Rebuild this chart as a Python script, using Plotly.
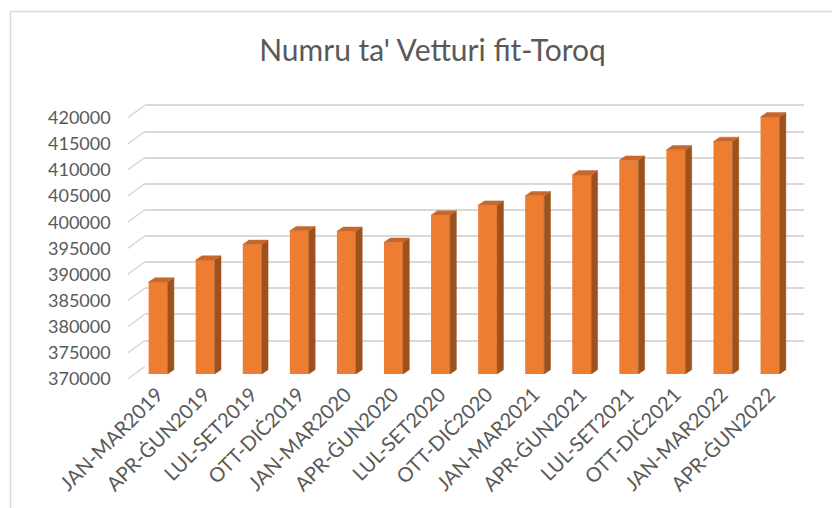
import plotly.graph_objects as go

# ---- data ----
categories = ["JAN-MAR2019", "APR-ĠUN2019", "LUL-SET2019", "OTT-DIĊ2019",
              "JAN-MAR2020", "APR-ĠUN2020", "LUL-SET2020", "OTT-DIĊ2020",
              "JAN-MAR2021", "APR-ĠUN2021", "LUL-SET2021", "OTT-DIĊ2021",
              "JAN-MAR2022", "APR-ĠUN2022"]
values = [387600, 391800, 394800, 397400, 397300, 395200, 400400, 402300,
          404100, 408100, 410900, 412900, 414500, 419200]
y_ticks = [370000, 375000, 380000, 385000, 390000, 395000, 400000,
           405000, 410000, 415000, 420000]
y_tick_labels = [str(t) for t in y_ticks]
title_text = "Numru ta' Vetturi fit-Toroq"

# ---- geometry (pixels, page coords; page body margin compensated) ----
W, H = 840, 508
OFF = 8.0             # default body margin of the html page
XL = 127.7 - OFF      # floor front-left x
CW = 47.07            # category width px
XR = XL + len(categories) * CW
YB = 379.0 - OFF      # pixel of axis minimum on front plane
K = 0.005226          # px per unit value
YMIN, YMAX = 370000, 425000
YT = YB - (YMAX - YMIN) * K

def dom(x0, x1, y0, y1):
    return [x0 / W, x1 / W], [1 - y1 / H, 1 - y0 / H]

# back wall shift, bar plane shift, bar depth
BACK_DX, BACK_DY = 17.0, 12.3
BAR_DX, BAR_DY = 6.9, 5.0
DEP_DX, DEP_DY = 6.3, 4.3

fx, fy = dom(XL, XR, YT, YB)
bx, by = dom(XL + BACK_DX, XR + BACK_DX, YT - BACK_DY, YB - BACK_DY)
cx, cy = dom(XL + BAR_DX, XR + BAR_DX, YT - BAR_DY, YB - BAR_DY)

xr = [-0.5, len(categories) - 0.5]
idx = list(range(len(categories)))
label_pos = [i + 0.13 for i in idx]

FRONT = "#ED7D31"
SIDE = "#9C521E"
TOP = "#C9672A"
TXT = "#595959"
GRID = "#D9D9D9"
FONT = "Lato"

fig = go.Figure()

# invisible trace so the back-wall subplot is drawn
fig.add_trace(go.Scatter(x=[xr[0]], y=[YMIN], mode="markers", xaxis="x",
                         yaxis="y", marker=dict(opacity=0), hoverinfo="skip",
                         showlegend=False))

# side-wall diagonals (front axes, data units)
ddx = BACK_DX / CW
ddy = BACK_DY / K
sx, sy = [], []
for t in y_ticks:
    sx += [xr[0], xr[0] + ddx, None]
    sy += [t, t + ddy, None]
fig.add_trace(go.Scatter(x=sx, y=sy, mode="lines", xaxis="x2", yaxis="y2",
                         line=dict(color=GRID, width=1.5), hoverinfo="skip",
                         showlegend=False))

# bars (front faces)
bw = 0.404
fig.add_trace(go.Bar(x=idx, y=values, width=bw, xaxis="x3", yaxis="y3",
                     marker=dict(color=FRONT, line=dict(width=0)),
                     showlegend=False, hoverinfo="y"))

# side & top faces
bdx = DEP_DX / CW
bdy = DEP_DY / K
w = bw / 2
side_x, side_y, top_x, top_y = [], [], [], []
for i, v in zip(idx, values):
    side_x += [i + w, i + w, i + w + bdx, i + w + bdx, i + w, None]
    side_y += [YMIN, v, v + bdy, YMIN + bdy, YMIN, None]
    top_x += [i - w, i + w, i + w + bdx, i - w + bdx, i - w, None]
    top_y += [v, v, v + bdy, v + bdy, v, None]
fig.add_trace(go.Scatter(x=side_x, y=side_y, mode="lines", fill="toself",
                         fillcolor=SIDE, line=dict(color=SIDE, width=0.5),
                         xaxis="x3", yaxis="y3", hoverinfo="skip",
                         showlegend=False))
fig.add_trace(go.Scatter(x=top_x, y=top_y, mode="lines", fill="toself",
                         fillcolor=TOP, line=dict(color=TOP, width=0.5),
                         xaxis="x3", yaxis="y3", hoverinfo="skip",
                         showlegend=False))

hidden = dict(showgrid=False, zeroline=False, showticklabels=False,
              showline=False, ticks="", automargin=False)

fig.update_layout(
    template="none",
    width=W, height=H, autosize=False,
    margin=dict(l=0, r=0, t=0, b=0, pad=0),
    paper_bgcolor="white", plot_bgcolor="rgba(0,0,0,0)",
    showlegend=False,
    font=dict(family=FONT, color=TXT),
    title=dict(text=title_text, x=(432.5 - OFF) / W, xanchor="center",
               y=1 - (50 - OFF) / H, yanchor="middle", automargin=False,
               font=dict(family=FONT, size=30, color=TXT)),
    # back wall
    xaxis=dict(domain=bx, range=xr, anchor="y", **hidden),
    yaxis=dict(domain=by, range=[YMIN, YMAX], anchor="x", showgrid=True,
               gridcolor=GRID, gridwidth=1.5, tickvals=y_ticks,
               showticklabels=False, zeroline=False, ticks="",
               showline=False, automargin=False),
    # front plane (labels)
    xaxis2=dict(domain=fx, range=xr, anchor="y2", tickvals=label_pos,
                ticktext=categories, tickangle=-45, showgrid=False,
                zeroline=False, showline=False, ticks="", automargin=False,
                ticklabelstandoff=-1,
                tickfont=dict(family=FONT, size=20, color=TXT)),
    yaxis2=dict(domain=fy, range=[YMIN, YMAX], anchor="x2", tickvals=y_ticks,
                ticktext=y_tick_labels,
                showgrid=False, zeroline=False, showline=False, ticks="",
                automargin=False, ticklabelstandoff=16,
                tickfont=dict(family=FONT, size=18, color=TXT)),
    # bar plane
    xaxis3=dict(domain=cx, range=xr, anchor="y3", **hidden),
    yaxis3=dict(domain=cy, range=[YMIN, YMAX], anchor="x3", **hidden),
    shapes=[dict(type="rect", xref="paper", yref="paper",
                 x0=(10.5 - OFF) / W, x1=1.02, y0=-0.02,
                 y1=1 - (11.5 - OFF) / H,
                 line=dict(color=GRID, width=1.5), fillcolor="rgba(0,0,0,0)",
                 layer="below")],
)

fig.write_html("out.html")
